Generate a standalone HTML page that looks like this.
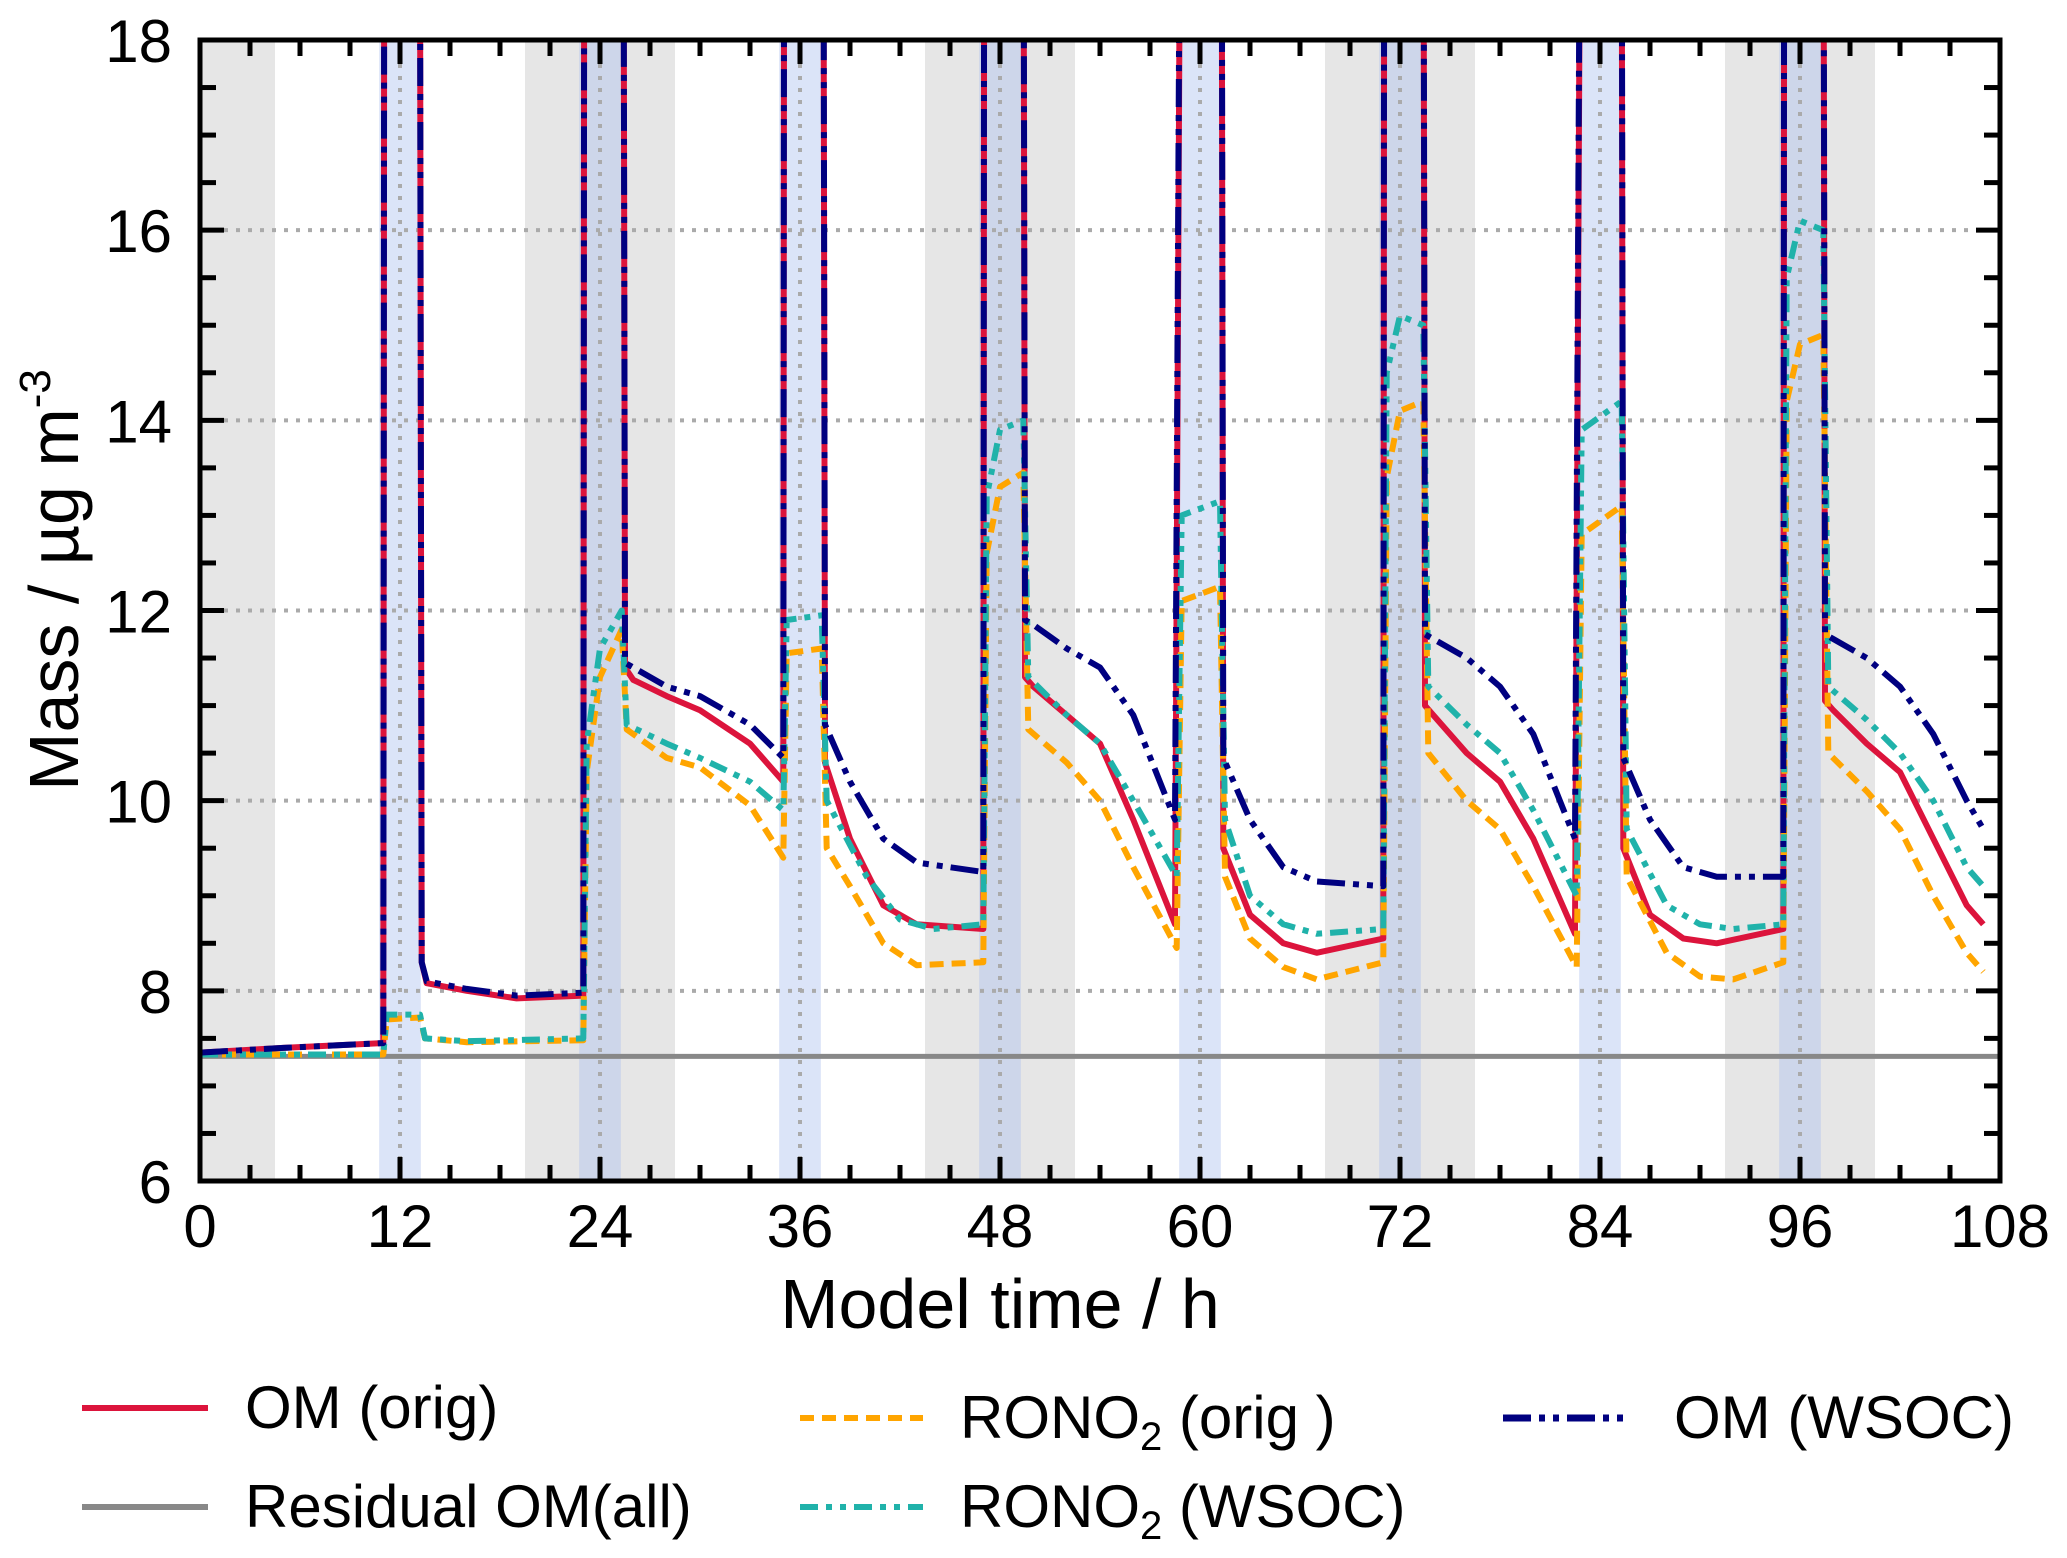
<!DOCTYPE html>
<html><head><meta charset="utf-8"><style>
html,body{margin:0;padding:0;background:#fff;}
svg{display:block;font-family:"Liberation Sans",Arial,sans-serif;}
</style></head><body>
<svg id="chart" width="2067" height="1558" viewBox="0 0 2067 1558" xmlns="http://www.w3.org/2000/svg">
<defs><clipPath id="plotclip"><rect x="200" y="40" width="1800" height="1141"/></clipPath></defs>
<g id="bands" clip-path="url(#plotclip)"></g>
<g id="grid"></g>
<g id="series" clip-path="url(#plotclip)"></g>
<g id="axes"></g>
<text x="1000" y="1328" font-size="70" text-anchor="middle">Model time / h</text>
<text transform="translate(78,580) rotate(-90)" font-size="70" text-anchor="middle">Mass / µg m<tspan dy="-28" font-size="44">-3</tspan></text>
<g id="legend" font-size="60">
 <g><line x1="82" y1="1408" x2="208" y2="1408" stroke="#dc143c" stroke-width="6"/><text x="245" y="1428">OM (orig)</text></g>
 <g><line x1="82" y1="1507" x2="208" y2="1507" stroke="#888" stroke-width="6"/><text x="245" y="1527">Residual OM(all)</text></g>
 <g><line x1="800" y1="1418" x2="923" y2="1418" stroke="#ffa500" stroke-width="6" stroke-dasharray="14,8"/><text x="960" y="1438">RONO<tspan dy="12" font-size="40">2</tspan><tspan dy="-12"> (orig )</tspan></text></g>
 <g><line x1="800" y1="1507" x2="923" y2="1507" stroke="#20b2aa" stroke-width="6" stroke-dasharray="18,8,6,8,6,8"/><text x="960" y="1527">RONO<tspan dy="12" font-size="40">2</tspan><tspan dy="-12"> (WSOC)</tspan></text></g>
 <g><line x1="1503" y1="1418" x2="1628" y2="1418" stroke="#000080" stroke-width="7" stroke-dasharray="28,8,6,8,6,8"/><text x="1674" y="1438">OM (WSOC)</text></g>
</g>
<script>
const xTicks=[0,12,24,36,48,60,72,84,96,108];
const yTicks=[6,8,10,12,14,16,18];
const gridY=[8,10,12,14,16];
const nightStarts=[-4.5,19.5,43.5,67.5,91.5];
const nightEnds=[4.5,28.5,52.5,76.5,100.5];
const cloudCenters=[12,24,36,48,60,72,84,96];
const cloudHalf=[1.25];
const residualH=[0,108];
const residualV=[7.31,7.31];
const omOrigH=[0,5,11,11.1,13.1,13.3,13.6,16,19,23,23.1,25.3,25.5,26,28,30,33,35,35.1,37.3,37.5,39,41,43,47,47.1,49.3,49.5,50,52,54,56,58.5,59.1,61.2,61.4,63,65,67,71,71.1,73.3,73.5,74,76,78,80,82.5,83.1,85.2,85.4,87,89,91,95,95.1,97.3,97.5,98,100,102,104,106,107];
const omOrigV=[7.35,7.4,7.45,30,30,8.3,8.08,8.0,7.92,7.95,30,30,11.4,11.27,11.1,10.95,10.6,10.2,30,30,10.4,9.6,8.9,8.7,8.65,30,30,11.3,11.2,10.9,10.6,9.8,8.7,30,30,9.5,8.8,8.5,8.4,8.55,30,30,11.0,10.9,10.5,10.2,9.6,8.6,30,30,9.5,8.8,8.55,8.5,8.65,30,30,11.05,10.95,10.6,10.3,9.6,8.9,8.7];
const omWsocH=[0,5,11,11.1,13.1,13.3,13.6,16,19,23,23.1,25.3,25.5,26,28,30,33,35,35.1,37.3,37.5,39,41,43,47,47.1,49.3,49.5,50,52,54,56,58.5,59.1,61.2,61.4,63,65,67,71,71.1,73.3,73.5,74,76,78,80,82.5,83.1,85.2,85.4,87,89,91,95,95.1,97.3,97.5,98,100,102,104,106,107];
const omWsocV=[7.35,7.4,7.45,30,30,8.3,8.1,8.02,7.95,7.98,30,30,11.45,11.4,11.2,11.1,10.8,10.45,30,30,10.8,10.2,9.6,9.35,9.25,30,30,11.9,11.85,11.6,11.4,10.9,9.8,30,30,10.45,9.8,9.3,9.15,9.1,30,30,11.75,11.7,11.5,11.2,10.7,9.6,30,30,10.45,9.8,9.3,9.2,9.2,30,30,11.75,11.7,11.5,11.2,10.7,10.0,9.7];
const ronoOrigH=[0,11,11.2,13.2,13.5,16,23,23.2,24,25.3,25.6,28,30,33,35,35.2,37.3,37.6,39,41,43,47,47.2,48,49.4,49.7,52,54,56,58.6,58.9,61.2,61.5,63,65,67,71,71.2,72,73.4,73.7,76,78,80,82.6,82.9,85.3,85.6,88,90,92,95,95.2,96,97.4,97.7,100,102,104,106,107];
const ronoOrigV=[7.33,7.33,7.7,7.72,7.5,7.46,7.48,10.3,11.3,11.8,10.75,10.45,10.35,9.95,9.4,11.55,11.6,9.5,9.1,8.5,8.27,8.3,12.6,13.3,13.45,10.75,10.4,10.0,9.3,8.45,12.1,12.25,9.2,8.55,8.25,8.12,8.3,13.4,14.1,14.2,10.5,10.0,9.7,9.1,8.25,12.8,13.1,9.2,8.4,8.15,8.12,8.3,14.2,14.8,14.9,10.5,10.1,9.7,9.0,8.4,8.2];
const ronoWsocH=[0,11,11.2,13.2,13.5,16,23,23.2,24,25.3,25.6,28,30,33,35,35.2,37.3,37.6,40,42,44,47,47.2,48,49.4,49.7,52,54,56,58.6,58.9,61.2,61.5,63,65,67,71,71.2,72,73.4,73.7,76,78,80,82.6,82.9,85.3,85.6,88,90,92,95,95.2,96,97.4,97.7,100,102,104,106,107];
const ronoWsocV=[7.33,7.33,7.75,7.75,7.5,7.47,7.5,10.6,11.6,12.0,10.8,10.6,10.45,10.2,9.9,11.9,11.95,10.0,9.2,8.75,8.65,8.7,13.2,13.9,14.0,11.3,10.9,10.6,10.0,9.2,13.0,13.15,9.8,9.0,8.7,8.6,8.65,14.5,15.1,15.0,11.2,10.8,10.5,9.9,9.0,13.9,14.2,9.7,8.9,8.7,8.65,8.7,15.5,16.1,16.0,11.2,10.85,10.5,10.0,9.3,9.1];

const X0=200,X1=2000,Y0=1181,Y1=40;
function sx(h){return X0+(h-0)/(108-0)*(X1-X0);}
function sy(v){return Y0-(v-6)/(18-6)*(Y0-Y1);}
const NS='http://www.w3.org/2000/svg';
function mk(tag,attrs,parent){const e=document.createElementNS(NS,tag);for(const k in attrs)e.setAttribute(k,attrs[k]);parent.appendChild(e);return e;}
const bands=document.getElementById('bands'),grid=document.getElementById('grid'),series=document.getElementById('series'),axes=document.getElementById('axes');
nightStarts.forEach((s,i)=>{const r=mk('rect',{x:sx(s),y:Y1,width:sx(nightEnds[i])-sx(s),height:Y0-Y1,fill:'#e6e6e6'},bands);

});
cloudCenters.forEach(c=>{const r=mk('rect',{x:sx(c-cloudHalf[0]),y:Y1,width:sx(c+cloudHalf[0])-sx(c-cloudHalf[0]),height:Y0-Y1,fill:'#b0c4f0','fill-opacity':0.45},bands);


const l=mk('line',{x1:sx(c),x2:sx(c),y1:Y1,y2:Y0,stroke:'#aaa','stroke-width':4,'stroke-dasharray':'4,8'},bands);

});
gridY.forEach(v=>{const l=mk('line',{x1:X0,x2:X1,y1:sy(v),y2:sy(v),stroke:'#aaa','stroke-width':4,'stroke-dasharray':'4,8'},grid);

});
function path(H,V){return H.map((h,i)=>(i?'L':'M')+sx(h).toFixed(1)+','+sy(V[i]).toFixed(1)).join('');}
function line(H,V,attrs,name){const p=mk('path',Object.assign({d:path(H,V),fill:'none','stroke-linejoin':'round'},attrs),series);

}
line(residualH,residualV,{stroke:'#888','stroke-width':5},'residual-om-line');
line(omOrigH,omOrigV,{stroke:'#dc143c','stroke-width':6},'om-orig-line');
line(ronoOrigH,ronoOrigV,{stroke:'#ffa500','stroke-width':6,'stroke-dasharray':'14,8'},'rono2-orig-line');
line(ronoWsocH,ronoWsocV,{stroke:'#20b2aa','stroke-width':6,'stroke-dasharray':'18,8,6,8,6,8'},'rono2-wsoc-line');
line(omWsocH,omWsocV,{stroke:'#000080','stroke-width':6,'stroke-dasharray':'28,8,6,8,6,8'},'om-wsoc-line');
const fr=mk('rect',{x:X0,y:Y1,width:X1-X0,height:Y0-Y1,fill:'none',stroke:'#000','stroke-width':5},axes);


for(let h=0;h<=108;h+=3){const major=h%12===0;const L=major?24:16;
mk('line',{x1:sx(h),x2:sx(h),y1:Y0,y2:Y0-L,stroke:'#000','stroke-width':5},axes);
mk('line',{x1:sx(h),x2:sx(h),y1:Y1,y2:Y1+L,stroke:'#000','stroke-width':5},axes);}
for(let v=6;v<=18;v+=0.5){const major=Math.abs(v%2)<1e-6;const L=major?24:16;
mk('line',{x1:X0,x2:X0+L,y1:sy(v),y2:sy(v),stroke:'#000','stroke-width':5},axes);
mk('line',{x1:X1,x2:X1-L,y1:sy(v),y2:sy(v),stroke:'#000','stroke-width':5},axes);}
xTicks.forEach(h=>{const t=mk('text',{x:sx(h),y:1247,'font-size':60,'text-anchor':'middle'},axes);t.textContent=h;

});
yTicks.forEach(v=>{const t=mk('text',{x:172,y:sy(v)+22,'font-size':60,'text-anchor':'end'},axes);t.textContent=v;

});
</script>
</svg>
</body></html>
